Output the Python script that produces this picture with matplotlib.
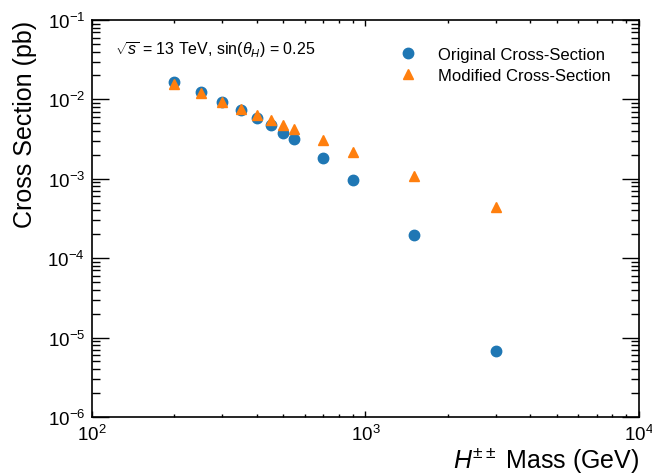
import numpy as np
import matplotlib
matplotlib.use("Agg")
import matplotlib.pyplot as plt

plt.rcParams['font.family'] = ['Liberation Sans', 'DejaVu Sans']
plt.rcParams['mathtext.fontset'] = 'custom'
plt.rcParams['mathtext.rm'] = 'Liberation Sans'
plt.rcParams['mathtext.it'] = 'Liberation Sans:italic'
plt.rcParams['mathtext.bf'] = 'Liberation Sans:bold'

# H++ mass points (GeV) and cross sections (pb)
mass = [200, 250, 300, 350, 400, 450, 500, 550, 700, 900, 1500, 3000]
xsec_orig = [1.64e-2, 1.23e-2, 9.4e-3, 7.4e-3, 5.85e-3, 4.7e-3, 3.8e-3,
             3.2e-3, 1.83e-3, 9.7e-4, 1.94e-4, 6.8e-6]
xsec_mod = [1.58e-2, 1.2e-2, 9.2e-3, 7.6e-3, 6.4e-3, 5.5e-3, 4.7e-3,
            4.2e-3, 3.1e-3, 2.2e-3, 1.1e-3, 4.4e-4]

fig = plt.figure(figsize=(6.52, 4.77), dpi=100)
ax = fig.add_axes([0.141, 0.1237, 0.839, 0.8323])

ax.plot(mass, xsec_orig, 'o', color='#1f77b4', markersize=7.5,
        label='Original Cross-Section')
ax.plot(mass, xsec_mod, '^', color='#ff7f0e', markersize=7.5,
        label='Modified Cross-Section')

ax.set_xscale('log')
ax.set_yscale('log')
ax.set_xlim(1e2, 1e4)
ax.set_ylim(1e-6, 1e-1)

for s in ax.spines.values():
    s.set_linewidth(1.2)

ax.tick_params(which='both', direction='in', top=True, right=True,
               labelsize=13.5, pad=5, width=1.0)
ax.tick_params(axis='y', which='major', length=12)
ax.tick_params(axis='y', which='minor', length=6)
ax.tick_params(axis='x', which='major', length=4.5)
ax.tick_params(axis='x', which='minor', length=2.5)

ax.set_xlabel(r'$H^{\pm\pm}$ Mass (GeV)', fontsize=18, loc='right', labelpad=0)
ax.set_ylabel('Cross Section (pb)', fontsize=18, loc='top')
ax.yaxis.set_label_coords(-0.1, 1.0)

ax.text(0.042, 0.915, r'$\sqrt{s}$ = 13 TeV, sin($\theta_H$) = 0.25',
        transform=ax.transAxes, fontsize=11.5)

ax.legend(loc='upper right', frameon=False, fontsize=12,
          bbox_to_anchor=(0.975, 0.97), handletextpad=0.8, labelspacing=0.35)

fig.savefig('out.png', dpi=100)
